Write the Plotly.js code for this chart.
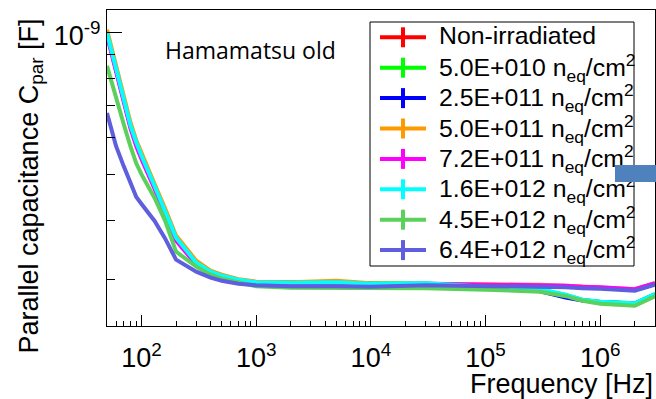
<!DOCTYPE html>
<html>
<head>
<meta charset="utf-8">
<script src="https://cdn.plot.ly/plotly-3.0.1.min.js"></script>
<style>
  html, body { margin: 0; padding: 0; background: #ffffff; }
  #chart { width: 656px; height: 399px; }
</style>
</head>
<body>
<div id="chart"></div>
<script>
// Measurement frequencies [Hz]
const freqHz = [50, 60, 70, 80, 90, 100, 130, 160, 200, 300, 400, 500, 700,
                1e3, 2e3, 5e3, 1e4, 3e4, 1e5, 2e5, 3e5, 5e5, 7e5, 1e6, 2e6, 3e6];

// Parallel capacitance per fluence [pF]
const capNonIrr = [995, 835, 710, 634, 584, 547, 472, 420, 367, 325, 311, 305, 299,
                   295.5, 294.8, 295.5, 293.4, 293.0, 288.0, 286.0, 283.7, 277.0, 271.0, 268.5, 266.5, 278.5];
const cap5E10   = [998, 837, 712, 636, 585.5, 548, 473, 420.5, 367.5, 325.2, 311.2, 305.2, 299.3,
                   295.6, 295.0, 295.6, 293.6, 294.0, 289.0, 287.5, 285.5, 278.0, 271.2, 268.7, 266.8, 279.0];
const cap2p5E11 = [996, 836, 711, 635, 585, 547.5, 472.5, 420, 367, 325, 311, 305, 299,
                   295.6, 294.9, 295.6, 293.5, 293.2, 288.2, 286.2, 283.0, 274.5, 270.5, 268.3, 266.5, 278.5];
const cap5E11   = [1013.8, 846.0, 723.1, 645.9, 591.4, 555.0, 477.7, 424.8, 371.2, 328.5, 312.8, 306.8, 300.1,
                   296.5, 295.7, 297.9, 294.3, 293.6, 292.9, 292.9, 292.1, 290.7, 289.3, 288.6, 285.8, 294.3];
const cap7p2E11 = [984.4, 825.5, 705.5, 627.3, 574.3, 538.9, 466.2, 414.6, 362.3, 322.2, 309.8, 303.8, 297.9,
                   295.0, 294.3, 295.0, 292.9, 293.6, 292.9, 292.1, 291.4, 290.7, 289.3, 288.6, 285.8, 294.3];
const cap1p6E12 = [999.0, 837.7, 712.5, 636.5, 585.7, 548.2, 473.1, 420.7, 367.6, 325.3, 311.3, 305.3, 299.4,
                   295.7, 295.0, 295.7, 293.6, 294.3, 289.3, 287.9, 285.8, 278.2, 271.4, 268.8, 266.8, 278.9];
const cap4p5E12 = [850.1, 723.1, 639.6, 574.3, 528.4, 500.5, 446.1, 400.0, 343.3, 319.0, 306.8, 300.8, 295.0,
                   290.0, 287.9, 287.9, 287.2, 287.2, 285.1, 283.7, 282.3, 276.2, 270.1, 266.1, 263.5, 276.2];
const cap6p4E12 = [675.1, 574.3, 520.6, 479.6, 448.3, 433.2, 398.7, 366.7, 330.1, 311.3, 302.3, 297.9, 293.6,
                   291.4, 290.0, 290.0, 289.3, 291.4, 290.7, 290.0, 289.3, 288.6, 287.2, 286.5, 283.7, 292.1];

const seriesValues = [capNonIrr, cap5E10, cap2p5E11, cap5E11, cap7p2E11, cap1p6E12, cap4p5E12, cap6p4E12];
const seriesNames = [
  'Non-irradiated',
  '5.0E+010 n<sub>eq</sub>/cm<sup>2</sup>',
  '2.5E+011 n<sub>eq</sub>/cm<sup>2</sup>',
  '5.0E+011 n<sub>eq</sub>/cm<sup>2</sup>',
  '7.2E+011 n<sub>eq</sub>/cm<sup>2</sup>',
  '1.6E+012 n<sub>eq</sub>/cm<sup>2</sup>',
  '4.5E+012 n<sub>eq</sub>/cm<sup>2</sup>',
  '6.4E+012 n<sub>eq</sub>/cm<sup>2</sup>'
];
const seriesColors = ['#ff0000', '#00ff00', '#0000ff', '#ff9900', '#ff00ff', '#00ffff', '#5bd05b', '#5e5ede'];

// Axis ticks
const xTickVals = [1e2, 1e3, 1e4, 1e5, 1e6];
const xTickText = ['10<sup>2</sup>', '10<sup>3</sup>', '10<sup>4</sup>', '10<sup>5</sup>', '10<sup>6</sup>'];
const yTickVals = [1e-9];
const yTickText = ['10<sup>-9</sup>'];

const PF = 1e-12;
const FONT = 'Liberation Sans, Arial, sans-serif';

// canvas and frame geometry (pixels)
const W = 656, H = 399;
const M = { l: 107, r: 1, t: 10, b: 73 };
const plotW = W - M.l - M.r, plotH = H - M.t - M.b;
const px2x = px => (px - M.l) / plotW;
const px2y = py => 1 - (py - M.t) / plotH;

// minor log ticks: 2..9 in each decade inside the range
const xMinor = [];
for (let e = 1; e <= 6; e++) {
  for (let m = 2; m <= 9; m++) {
    const v = m * Math.pow(10, e);
    if (v >= 50 && v <= 3e6) xMinor.push(v);
  }
}
const yMinor = [];
for (let m = 3; m <= 9; m++) yMinor.push(m * 1e-10);

// curves
const traces = seriesValues.map((vals, i) => ({
  x: freqHz,
  y: vals.map(v => v * PF),
  type: 'scatter',
  mode: 'lines',
  name: seriesNames[i],
  line: { color: seriesColors[i], width: 4 },
  hoverinfo: 'skip'
}));

// legend box with line + vertical bar keys
const legendBox = { x0: 370, x1: 634, y0: 22, y1: 266 };
const keyX0 = 380, keyX1 = 426, keyXc = 403, keyHalf = 10;
const rowY0 = 37.3, rowStep = 30.4, textX = 437;

const shapes = [{
  type: 'rect', xref: 'paper', yref: 'paper', layer: 'above',
  x0: px2x(legendBox.x0), x1: px2x(legendBox.x1),
  y0: px2y(legendBox.y1), y1: px2y(legendBox.y0),
  line: { color: '#000', width: 1 }, fillcolor: '#ffffff'
}];
const annotations = [];
seriesNames.forEach((name, i) => {
  const ry = rowY0 + i * rowStep;
  shapes.push({
    type: 'line', xref: 'paper', yref: 'paper', layer: 'above',
    x0: px2x(keyX0), x1: px2x(keyX1), y0: px2y(ry), y1: px2y(ry),
    line: { color: seriesColors[i], width: 4 }
  });
  shapes.push({
    type: 'line', xref: 'paper', yref: 'paper', layer: 'above',
    x0: px2x(keyXc), x1: px2x(keyXc), y0: px2y(ry - keyHalf), y1: px2y(ry + keyHalf),
    line: { color: seriesColors[i], width: 4 }
  });
  annotations.push({
    text: name, xref: 'paper', yref: 'paper',
    x: px2x(textX), y: px2y(i === 0 ? ry - 1.5 : ry), xanchor: 'left', yanchor: 'middle',
    showarrow: false, align: 'left',
    font: { family: FONT, size: 24.8, color: '#000' }
  });
});

annotations.push(
  {
    text: 'Parallel capacitance C<sub>par</sub> [F]',
    xref: 'paper', yref: 'paper', x: px2x(30), y: px2y(186.5),
    xanchor: 'center', yanchor: 'middle', textangle: -90,
    showarrow: false, font: { family: FONT, size: 27, color: '#000' }
  },
  {
    text: 'Frequency [Hz]',
    xref: 'paper', yref: 'paper', x: 1, y: px2y(383.5),
    xanchor: 'right', yanchor: 'middle',
    showarrow: false, font: { family: FONT, size: 27, color: '#000' }
  },
  {
    text: 'Hamamatsu old',
    xref: 'paper', yref: 'paper', x: px2x(250), y: px2y(50),
    xanchor: 'center', yanchor: 'middle',
    showarrow: false, font: { family: 'Open Sans, sans-serif', size: 23, color: '#000' }
  },
  {
    // blue marker block at the right edge
    text: ' ',
    xref: 'paper', yref: 'paper', x: px2x(635.5), y: px2y(173.5),
    xanchor: 'center', yanchor: 'middle',
    width: 41, height: 17, borderpad: 0, borderwidth: 0,
    bgcolor: '#4f81bd', showarrow: false, font: { size: 2 }
  }
);

const axisCommon = {
  type: 'log',
  showgrid: false,
  zeroline: false,
  showline: true,
  linecolor: '#000',
  linewidth: 1,
  mirror: true,
  ticks: 'inside',
  tickcolor: '#000',
  tickwidth: 1,
  tickmode: 'array',
  tickfont: { family: FONT, size: 27, color: '#000' }
};

const layout = {
  width: W,
  height: H,
  paper_bgcolor: '#ffffff',
  plot_bgcolor: '#ffffff',
  margin: { l: M.l, r: M.r, t: M.t, b: M.b, autoexpand: false },
  showlegend: false,
  font: { family: FONT, color: '#000' },
  xaxis: Object.assign({}, axisCommon, {
    range: [Math.log10(50), Math.log10(3e6)],
    tickvals: xTickVals,
    ticktext: xTickText,
    ticklen: 11,
    ticklabelstandoff: 8,
    minor: { tickmode: 'array', tickvals: xMinor, ticks: 'inside', ticklen: 5, tickcolor: '#000', tickwidth: 1 }
  }),
  yaxis: Object.assign({}, axisCommon, {
    range: [-9.622, -8.952],
    tickvals: yTickVals,
    ticktext: yTickText,
    ticklen: 15,
    ticklabelshift: 3,
    minor: { tickmode: 'array', tickvals: yMinor, ticks: 'inside', ticklen: 8, tickcolor: '#000', tickwidth: 1 }
  }),
  shapes: shapes,
  annotations: annotations
};

Plotly.newPlot('chart', traces, layout, { staticPlot: true, displayModeBar: false });
</script>
</body>
</html>
